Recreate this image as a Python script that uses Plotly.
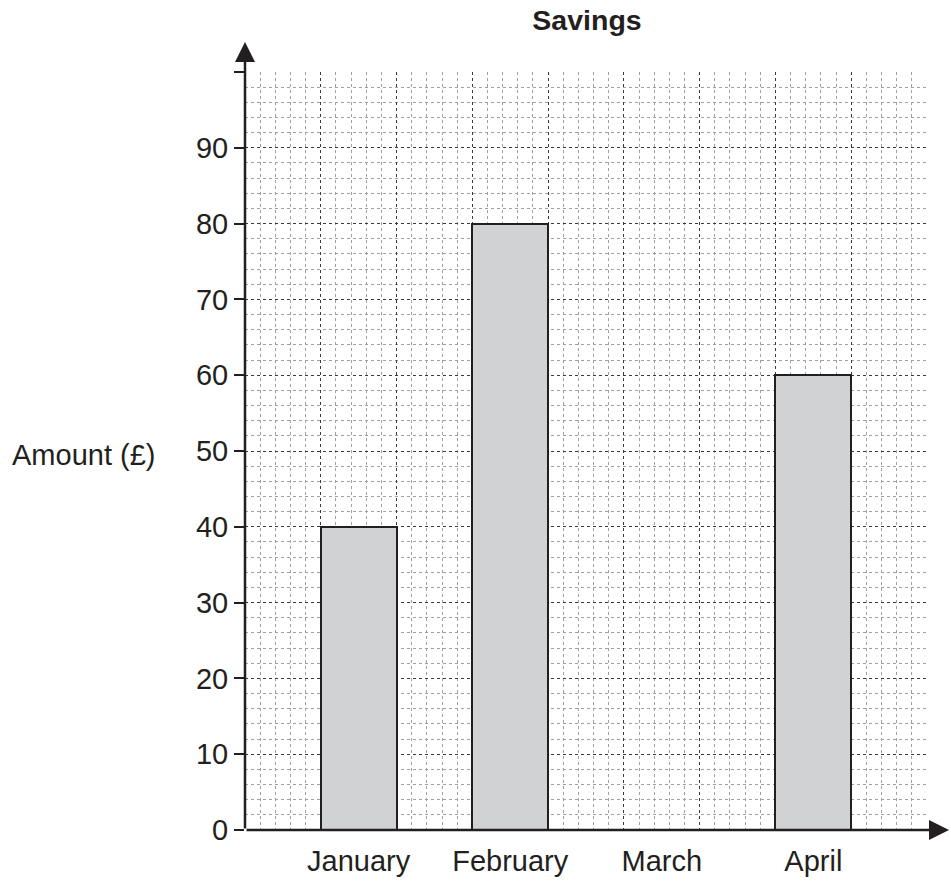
import plotly.graph_objects as go

# ---- data ----
months = ["January", "February", "March", "April"]
amounts = [40, 80, None, 60]
y_ticks = [0, 10, 20, 30, 40, 50, 60, 70, 80, 90, 100]
y_tick_labels = ["0", "10", "20", "30", "40", "50", "60", "70", "80", "90", ""]

FONT = "Liberation Sans, Arial, sans-serif"
TXT = "#231f20"

# bars sit in every other grid column
xpos = [1.5 + 2 * i for i in range(len(months))]

W, H = 951, 883
L, R, T, B = 245, 24, 72, 53
PW, PH = W - L - R, H - T - B

fig = go.Figure()
fig.add_trace(go.Bar(
    x=xpos, y=amounts, width=1.0,
    marker=dict(color="#d1d2d4", line=dict(color="#231f20", width=2)),
    showlegend=False, hoverinfo="skip",
))
fig.add_trace(go.Scatter(x=[0], y=[0], xaxis="x2", mode="markers",
                         marker=dict(opacity=0), showlegend=False, hoverinfo="skip"))

fig.update_layout(
    width=W, height=H,
    margin=dict(l=L, r=R, t=T, b=B, autoexpand=False),
    paper_bgcolor="white", plot_bgcolor="white",
    font=dict(family=FONT, size=29, color=TXT),
    title=dict(text="<b>Savings</b>", x=587 / W, xanchor="center",
               y=1 - 20 / H, yanchor="middle",
               font=dict(family=FONT, size=28.5, color=TXT)),
    xaxis=dict(
        range=[0, 9], tickvals=xpos, ticktext=months, automargin=False,
        showgrid=False, zeroline=False, showline=False,
        ticks="outside", ticklen=5, tickcolor="rgba(0,0,0,0)",
        tickfont=dict(family=FONT, size=29, color=TXT),
    ),
    xaxis2=dict(
        overlaying="x", anchor="y", range=[0, 9], automargin=False,
        tick0=0, dtick=1, showticklabels=False, ticks="",
        showgrid=True, gridcolor="#3a3a3a", gridwidth=1, griddash="dot",
        zeroline=False, showline=False,
        minor=dict(dtick=0.2, showgrid=True, gridcolor="#a0a0a0",
                   gridwidth=1, griddash="dot", ticks=""),
    ),
    yaxis=dict(
        range=[0, 100], tickvals=y_ticks, ticktext=y_tick_labels, automargin=False,
        showgrid=True, gridcolor="#3a3a3a", gridwidth=1, griddash="dot",
        zeroline=False, showline=False,
        ticks="outside", ticklen=10, tickwidth=1.5, tickcolor=TXT,
        tickfont=dict(family=FONT, size=29, color=TXT),
        minor=dict(dtick=2, tick0=0, showgrid=True, gridcolor="#a0a0a0",
                   gridwidth=1, griddash="dot", ticks=""),
    ),
    bargap=0,
)

# y-axis title (horizontal)
fig.add_annotation(text="Amount (£)", xref="paper", yref="paper",
                   x=(83 - L) / PW, y=(830 - 455) / PH, xanchor="center", yanchor="middle",
                   showarrow=False, font=dict(family=FONT, size=29, color=TXT))

# axis lines with arrowheads
fig.add_annotation(text="", xref="paper", yref="paper", x=0, y=(830 - 42) / PH,
                   ax=0, ay=788, axref="pixel", ayref="pixel",
                   showarrow=True, arrowhead=2, arrowsize=1.6, arrowwidth=2.5,
                   arrowcolor=TXT, standoff=0)
fig.add_annotation(text="", xref="paper", yref="paper", x=(949 - L) / PW, y=0,
                   ax=-(949 - L), ay=0, axref="pixel", ayref="pixel",
                   showarrow=True, arrowhead=2, arrowsize=1.6, arrowwidth=2.5,
                   arrowcolor=TXT, standoff=0)

# remove the default 8px page margin so the figure fills the window exactly
fig.write_html("out.html",
               config={"displayModeBar": False},
               post_script="document.body.style.margin='0';document.body.style.overflow='hidden';")
